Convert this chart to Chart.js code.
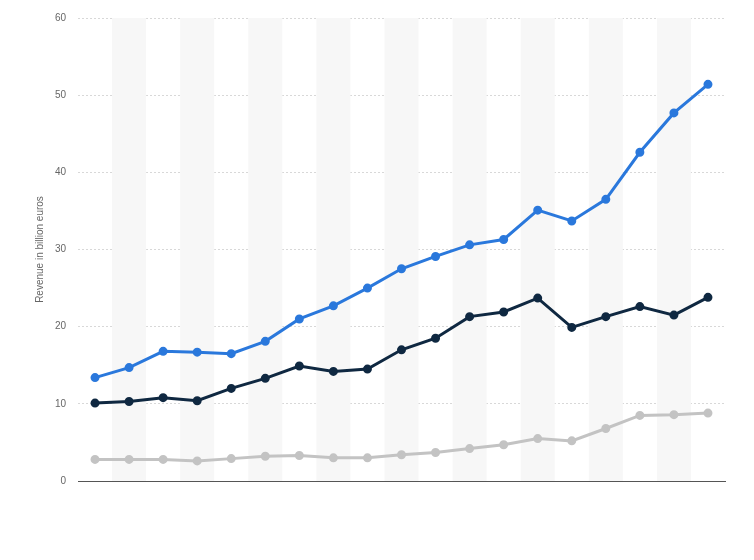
<!DOCTYPE html>
<html>
<head>
<meta charset="utf-8">
<script src="https://cdn.jsdelivr.net/npm/chart.js@4"></script>
<style>
  html, body { margin: 0; padding: 0; background: #fff; }
  #wrap { width: 754px; height: 560px; }
</style>
</head>
<body>
<div id="wrap"><canvas id="chart"></canvas></div>
<script>
const categories = ['', '', '', '', '', '', '', '', '', '', '', '', '', '', '', '', '', '', ''];
const seriesBlue = [13.4, 14.7, 16.8, 16.7, 16.5, 18.1, 21.0, 22.7, 25.0, 27.5, 29.1, 30.6, 31.3, 35.1, 33.7, 36.5, 42.6, 47.7, 51.4];
const seriesDark = [10.1, 10.3, 10.8, 10.4, 12.0, 13.3, 14.9, 14.2, 14.5, 17.0, 18.5, 21.3, 21.9, 23.7, 19.9, 21.3, 22.6, 21.5, 23.8];
const seriesGray = [2.8, 2.8, 2.8, 2.6, 2.9, 3.2, 3.3, 3.0, 3.0, 3.4, 3.7, 4.2, 4.7, 5.5, 5.2, 6.8, 8.5, 8.6, 8.8];
const yTicks = [0, 10, 20, 30, 40, 50, 60];

// alternating column shading behind the lines
const bands = {
  id: 'bands',
  beforeDatasetsDraw(chart) {
    const { ctx, chartArea, scales: { x } } = chart;
    const step = x.getPixelForValue(1) - x.getPixelForValue(0);
    ctx.save();
    ctx.fillStyle = '#f7f7f7';
    categories.forEach((c, i) => {
      if (i % 2 === 1) {
        const cx = x.getPixelForValue(i);
        ctx.fillRect(cx - step / 2, chartArea.top, step, chartArea.bottom - chartArea.top);
      }
    });
    ctx.restore();
  }
};

function line(data, color) {
  return {
    data: data,
    borderColor: color,
    backgroundColor: color,
    borderWidth: 3,
    pointRadius: 3,
    pointHoverRadius: 3,
    tension: 0
  };
}

new Chart(document.getElementById('chart'), {
  type: 'line',
  data: {
    labels: categories,
    datasets: [line(seriesGray, '#c3c3c3'), line(seriesDark, '#0f2841'), line(seriesBlue, '#2a78dc')]
  },
  plugins: [bands],
  options: {
    responsive: true,
    maintainAspectRatio: false,
    animation: false,
    layout: { padding: { left: 30, right: 29, top: 17, bottom: 71 } },
    plugins: { legend: { display: false }, tooltip: { enabled: false } },
    scales: {
      x: {
        offset: true,
        grid: { display: false },
        border: { display: true, color: '#555' },
        ticks: { display: false }
      },
      y: {
        min: 0, max: 60,
        afterBuildTicks(axis) { axis.ticks = yTicks.map(v => ({ value: v })); },
        afterFit(axis) { axis.width = 48; },
        grid: { color: '#d8d8d8', borderDash: [2, 2], drawTicks: false },
        border: { display: false, dash: [2, 2] },
        ticks: { color: '#666', font: { family: 'Arial, Liberation Sans', size: 10 }, padding: 12 },
        title: { display: true, text: 'Revenue in billion euros', color: '#666', font: { family: 'Arial, Liberation Sans', size: 10 } }
      }
    }
  }
});
</script>
</body>
</html>
